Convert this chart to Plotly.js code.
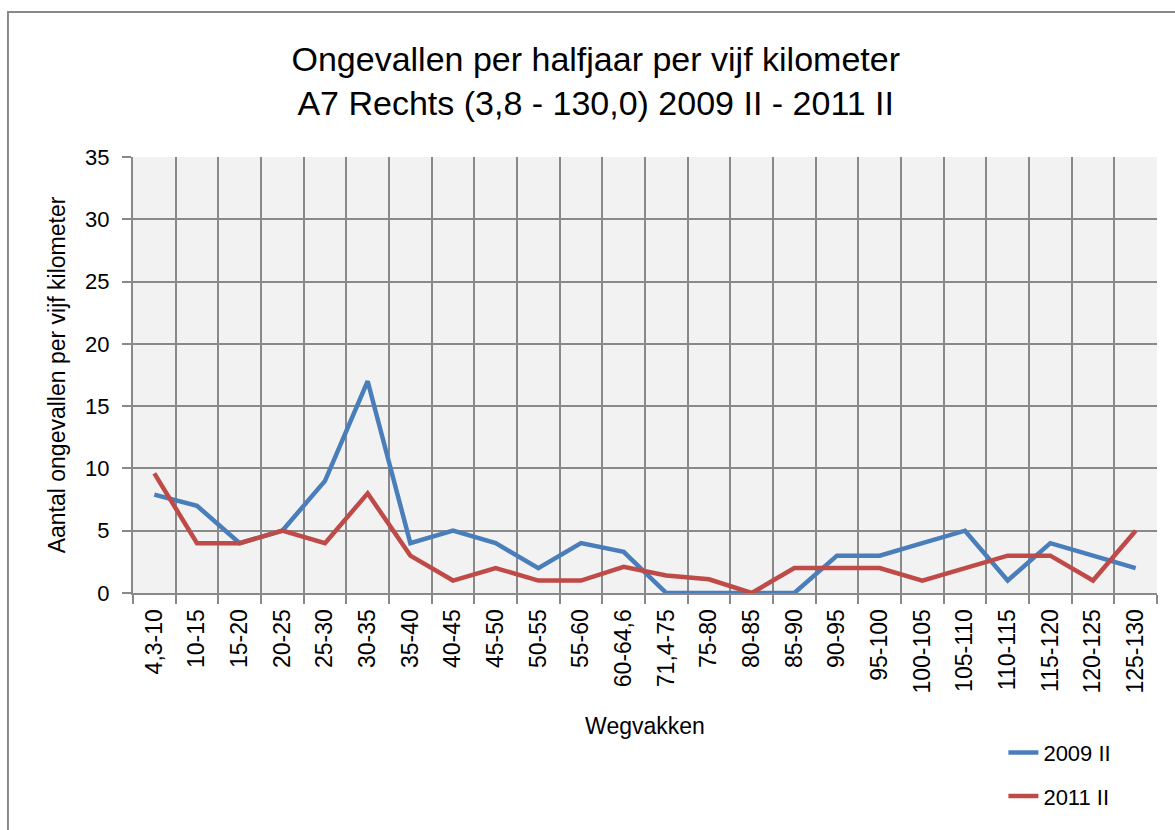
<!DOCTYPE html>
<html>
<head>
<meta charset="utf-8">
<script src="https://cdn.plot.ly/plotly-3.0.1.min.js"></script>
<style>
  html, body { margin: 0; padding: 0; background: #fff; }
  #grafico { width: 1175px; height: 830px; }
</style>
</head>
<body>
<div id="grafico"></div>
<script>
var wegvakken = ['4,3-10', '10-15', '15-20', '20-25', '25-30', '30-35', '35-40', '40-45',
    '45-50', '50-55', '55-60', '60-64,6', '71,4-75', '75-80', '80-85', '85-90',
    '90-95', '95-100', '100-105', '105-110', '110-115', '115-120', '120-125', '125-130'];
var waarden2009 = [7.9, 7, 4, 5, 9, 17, 4, 5, 4, 2, 4, 3.3, 0, 0, 0, 0, 3, 3, 4, 5, 1, 4, 3, 2];
var waarden2011 = [9.6, 4, 4, 5, 4, 8, 3, 1, 2, 1, 1, 2.1, 1.4, 1.1, 0, 2, 2, 2, 1, 2, 3, 3, 1, 5];

var lettertype = '"Liberation Sans", Arial, sans-serif';

var trace1 = {
    x: wegvakken,
    y: waarden2009,
    type: 'scatter',
    mode: 'lines',
    line: {color: '#4a7ebb', width: 4.5},
    name: '2009 II',
    legendgroup: 'a'
};
var trace2 = {
    x: wegvakken,
    y: waarden2011,
    type: 'scatter',
    mode: 'lines',
    line: {color: '#be4b48', width: 4.5},
    name: '2011 II',
    legendgroup: 'b'
};

var layout = {
    width: 1175,
    height: 830,
    margin: {l: 133, r: 18, t: 157, b: 237},
    paper_bgcolor: '#ffffff',
    plot_bgcolor: '#f2f2f2',
    font: {family: lettertype, color: '#000', size: 20},
    title: {
        text: 'Ongevallen per halfjaar per vijf kilometer<br>A7 Rechts (3,8 - 130,0) 2009 II - 2011 II',
        font: {size: 34, family: lettertype},
        x: 0.507, xanchor: 'center',
        y: 0.915, yanchor: 'top'
    },
    xaxis: {
        type: 'category',
        automargin: true,
        tickangle: -90,
        tickson: 'boundaries',
        ticks: 'outside',
        ticklen: 9,
        tickwidth: 2,
        tickcolor: '#898989',
        ticklabelstandoff: 5,
        showgrid: true,
        gridcolor: '#898989',
        gridwidth: 2,
        showline: true,
        linecolor: '#898989',
        linewidth: 2,
        tickfont: {size: 23},
        title: {text: 'Wegvakken', font: {size: 23}, standoff: 25},
        range: [-0.5, 23.5]
    },
    yaxis: {
        automargin: true,
        range: [0, 35],
        dtick: 5,
        ticks: 'outside',
        ticklen: 9,
        tickwidth: 2,
        tickcolor: '#898989',
        ticklabelstandoff: 8,
        showgrid: true,
        gridcolor: '#898989',
        gridwidth: 2,
        showline: true,
        linecolor: '#898989',
        linewidth: 2,
        zeroline: false,
        tickfont: {size: 22},
        title: {text: 'Aantal ongevallen per vijf kilometer', font: {size: 23}, standoff: 13}
    },
    showlegend: true,
    legend: {
        x: 0.85, xanchor: 'left',
        y: -0.318, yanchor: 'top',
        font: {size: 22},
        traceorder: 'grouped',
        tracegroupgap: 12,
        bgcolor: 'rgba(0,0,0,0)'
    },
    shapes: [{
        type: 'rect',
        xref: 'paper', yref: 'paper',
        x0: -0.1221, x1: 1.06,
        y0: -0.62, y1: 1.3326,
        line: {color: '#898989', width: 2},
        fillcolor: 'rgba(0,0,0,0)',
        layer: 'below'
    }]
};

Plotly.newPlot('grafico', [trace1, trace2], layout, {displayModeBar: false});
</script>
</body>
</html>
